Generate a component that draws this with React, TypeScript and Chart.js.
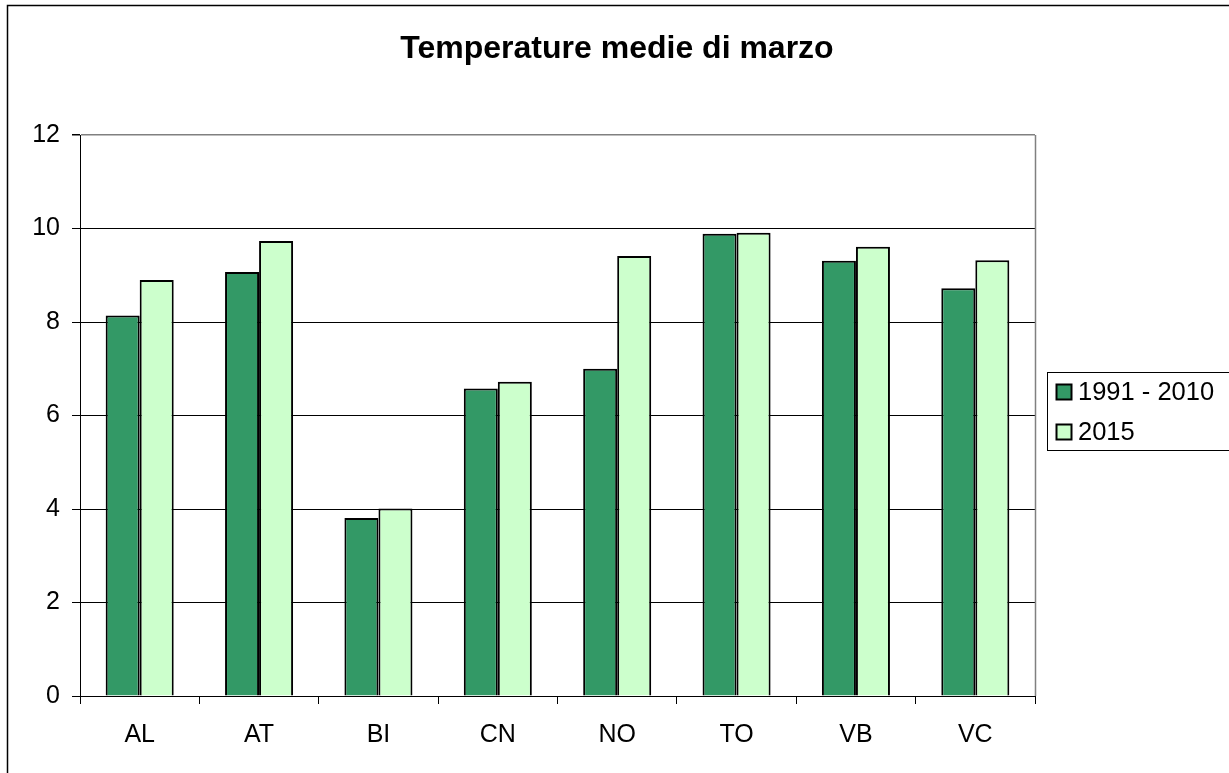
import React, { useEffect, useRef } from "react";
import { Chart, registerables } from "chart.js";

Chart.register(...registerables);

const categories = ["AL", "AT", "BI", "CN", "NO", "TO", "VB", "VC"];
const series1991 = [8.14, 9.07, 3.81, 6.58, 7.0, 9.89, 9.31, 8.72];
const series2015 = [8.9, 9.73, 4.01, 6.72, 9.41, 9.91, 9.61, 9.32];
const seriesLabels = ["1991 - 2010", "2015"];
const yMin = 0;
const yMax = 12;
const yStep = 2;
const chartTitle = "Temperature medie di marzo";

const darkGreen = "#339966";
const lightGreen = "#CCFFCC";
const FONT = "'Liberation Sans', Arial, sans-serif";

const decorPlugin = {
  id: "decor",
  beforeDraw(chart: any) {
    const ctx = chart.ctx;
    ctx.save();
    ctx.fillStyle = "#ffffff";
    ctx.fillRect(0, 0, chart.width, chart.height);
    ctx.restore();
  },
  afterDraw(chart: any) {
    const ctx = chart.ctx;
    const ca = chart.chartArea;
    ctx.save();
    // outer frame
    ctx.strokeStyle = "#000";
    ctx.lineWidth = 1.5;
    ctx.beginPath();
    ctx.moveTo(7.5, chart.height + 10);
    ctx.lineTo(7.5, 5.5);
    ctx.lineTo(chart.width + 10, 5.5);
    ctx.stroke();

    // right plot border (gray)
    ctx.strokeStyle = "#808080";
    ctx.lineWidth = 1.5;
    ctx.beginPath();
    ctx.moveTo(Math.round(ca.right) + 0.5, ca.top);
    ctx.lineTo(Math.round(ca.right) + 0.5, ca.bottom);
    ctx.stroke();

    // title
    ctx.fillStyle = "#000";
    ctx.font = `bold 32px ${FONT}`;
    ctx.textAlign = "center";
    ctx.textBaseline = "middle";
    ctx.fillText(chartTitle, 617, 49);

    // legend
    const lx = 1047, ly = 372, lw = 200, lh = 78;
    ctx.fillStyle = "#fff";
    ctx.fillRect(lx, ly, lw, lh);
    ctx.strokeStyle = "#000";
    ctx.lineWidth = 1;
    ctx.strokeRect(lx + 0.5, ly + 0.5, lw, lh);
    const cols = [darkGreen, lightGreen];
    const ys = [392, 432];
    ctx.font = `25.5px ${FONT}`;
    ctx.textAlign = "left";
    ctx.textBaseline = "middle";
    for (let i = 0; i < seriesLabels.length; i++) {
      ctx.fillStyle = cols[i];
      ctx.fillRect(1056, ys[i] - 8, 16, 16);
      ctx.strokeStyle = "#000";
      ctx.lineWidth = 2;
      ctx.strokeRect(1056.5, ys[i] - 7.5, 15, 15);
      ctx.fillStyle = "#000";
      ctx.fillText(seriesLabels[i], 1078, ys[i] + 1);
    }
    ctx.restore();
  },
};

export default function App() {
  const ref = useRef<HTMLCanvasElement | null>(null);

  useEffect(() => {
    if (!ref.current) return;
    const chart = new Chart(ref.current, {
      type: "bar",
      data: {
        labels: categories,
        datasets: [
          {
            label: seriesLabels[0],
            data: series1991,
            backgroundColor: darkGreen,
            borderColor: "#000",
            borderWidth: 2,
            borderSkipped: "bottom",
          },
          {
            label: seriesLabels[1],
            data: series2015,
            backgroundColor: lightGreen,
            borderColor: "#000",
            borderWidth: 2,
            borderSkipped: "bottom",
          },
        ],
      },
      options: {
        responsive: false,
        animation: false,
        devicePixelRatio: 1,
        layout: { padding: { top: 135, right: 194, left: 0, bottom: 0 } },
        datasets: {
          bar: { barPercentage: 1, categoryPercentage: 0.57 },
        },
        plugins: {
          legend: { display: false },
          title: { display: false },
          tooltip: { enabled: false },
        },
        scales: {
          x: {
            grid: {
              display: true,
              drawOnChartArea: false,
              drawTicks: true,
              tickLength: 8,
              color: "#000",
              offset: true,
            },
            border: { color: "#000", width: 1 },
            ticks: {
              color: "#000",
              font: { family: FONT, size: 25 },
              padding: 16,
            },
            afterFit: (s: any) => {
              s.height = 773 - 696;
            },
          },
          y: {
            min: yMin,
            max: yMax,
            ticks: {
              stepSize: yStep,
              color: "#000",
              font: { family: FONT, size: 25 },
              padding: 12,
            },
            grid: {
              color: (c: any) => (c.tick && c.tick.value === yMax ? "#808080" : "#000"),
              lineWidth: (c: any) => (c.tick && c.tick.value === yMax ? 1.5 : 1),
              tickLength: 8,
              tickColor: "#000",
            },
            border: { color: "#000", width: 1 },
            afterFit: (s: any) => {
              s.width = 80;
            },
          },
        },
      },
      plugins: [decorPlugin],
    });
    return () => chart.destroy();
  }, []);

  return (
    <div style={{ position: "absolute", left: 0, top: 0, width: 1229, height: 773 }}>
      <canvas ref={ref} width={1229} height={773} style={{ display: "block" }} />
    </div>
  );
}
